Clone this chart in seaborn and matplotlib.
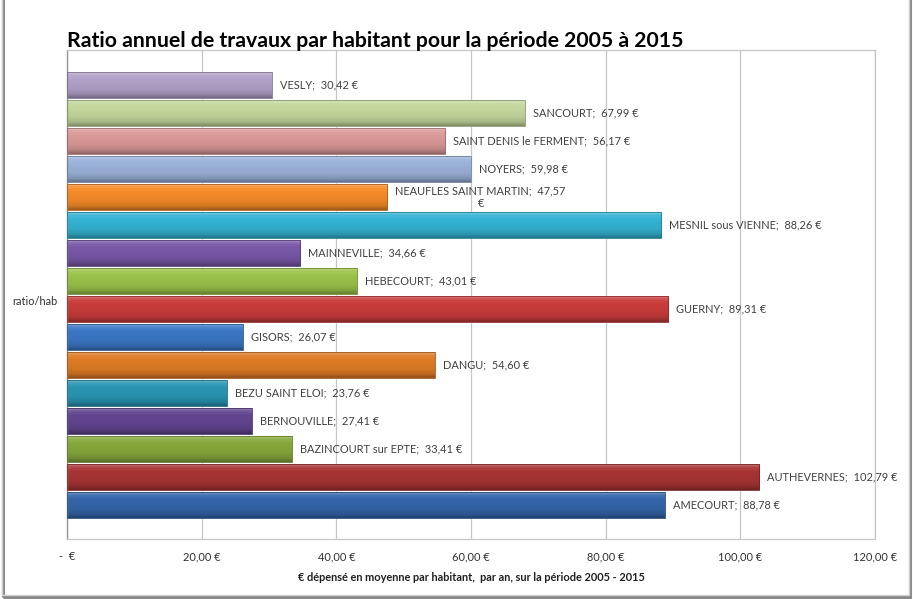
import numpy as np
import pandas as pd
import matplotlib
matplotlib.use("Agg")
import matplotlib.pyplot as plt
import matplotlib.colors as mcolors
from matplotlib.patches import Rectangle
import seaborn as sns

# Communes, from top of the chart to the bottom
communes = [
    "VESLY", "SANCOURT", "SAINT DENIS le FERMENT", "NOYERS",
    "NEAUFLES SAINT MARTIN", "MESNIL sous VIENNE", "MAINNEVILLE",
    "HEBECOURT", "GUERNY", "GISORS", "DANGU", "BEZU SAINT ELOI",
    "BERNOUVILLE", "BAZINCOURT sur EPTE", "AUTHEVERNES", "AMECOURT",
]
ratio = [
    30.42, 67.99, 56.17, 59.98,
    47.57, 88.26, 34.66,
    43.01, 89.31, 26.07, 54.60, 23.76,
    27.41, 33.41, 102.79, 88.78,
]
bar_colors = [
    "#b2a2c9", "#c4d79c", "#da9a98", "#9bb2d9",
    "#f68b28", "#33b3d3", "#7a58a8",
    "#9bc349", "#c93c3b", "#3b77c5", "#df7b24", "#2996b4",
    "#634590", "#85a83b", "#a93434", "#3465a9",
]
x_ticks = [0, 20, 40, 60, 80, 100, 120]
x_tick_labels = ["-  €", "20,00 €", "40,00 €", "60,00 €", "80,00 €", "100,00 €", "120,00 €"]

title = "Ratio annuel de travaux par habitant pour la période 2005 à 2015"
x_label = "€ dépensé en moyenne par habitant,  par an, sur la période 2005 - 2015"
category = "ratio/hab"


def fr_euro(v):
    return f"{v:.2f}".replace(".", ",") + " €"


df = pd.DataFrame({"commune": communes, "ratio": ratio})

sns.set_theme(style="white")
plt.rcParams["font.family"] = ["Lato", "DejaVu Sans"]

fig = plt.figure(figsize=(9.13, 5.99), dpi=100)
ax = fig.add_axes([0.0734, 0.1002, 0.8850, 0.8163])

sns.barplot(
    data=df, y="commune", x="ratio", hue="commune", order=communes,
    hue_order=communes, palette=bar_colors, orient="h", dodge=False,
    width=0.93, legend=False, ax=ax, saturation=1, zorder=2,
)

xlim = (0, 120)
ylim = (len(communes) - 0.5 + 0.70, -0.5 - 0.76)


def shade(rgb, f):
    rgb = np.asarray(rgb)
    if f >= 0:
        return rgb + (1 - rgb) * f
    return rgb * (1 + f)


# glossy bevel gradient on every bar
stops_t = [0.0, 0.06, 0.14, 0.30, 0.65, 0.85, 0.95, 1.0]
stops_f = [0.55, 0.30, 0.10, 0.0, -0.05, -0.15, -0.28, -0.35]
for patch, col in zip(ax.patches, bar_colors):
    x0, y0 = patch.get_x(), patch.get_y()
    w, h = patch.get_width(), patch.get_height()
    base = np.array(mcolors.to_rgb(col))
    t = np.linspace(0, 1, 60)
    f = np.interp(t, stops_t, stops_f)
    grad = np.array([np.clip(shade(base, fi), 0, 1) for fi in f])[:, None, :]
    im = ax.imshow(grad, extent=(x0, x0 + w, y0 + h, y0), origin="upper",
                   aspect="auto", interpolation="bilinear", zorder=2.5)
    im.set_clip_path(patch)
    ax.add_patch(Rectangle((x0, y0), w, h, fill=False,
                           edgecolor=shade(base, -0.3), linewidth=0.6, zorder=2.6))

# value labels just past the end of each bar
for name, v, yi in zip(communes, ratio, range(len(communes))):
    txt = f"{name};  {fr_euro(v)}"
    if name == "NEAUFLES SAINT MARTIN":
        txt = f"{name};  {fr_euro(v)[:-2]}\n€"
    ax.text(v + 1.2, yi, txt, ha="left", va="center", multialignment="center",
            fontsize=7.9, color="#404040", zorder=4, linespacing=1.25)

ax.set_xlim(*xlim)
ax.set_ylim(*ylim)
ax.set_xticks(x_ticks)
ax.set_xticklabels(x_tick_labels, fontsize=7.9, color="#303030")
ax.set_yticks([])
ax.set_ylabel("")
ax.set_xlabel(x_label, fontsize=7.9, fontweight="bold", color="#202020", labelpad=7)
ax.tick_params(axis="x", length=0, pad=9)
ax.grid(axis="x", color="#c6c6c6", linewidth=0.9, zorder=0)
ax.set_axisbelow(True)
for side in ["top", "right", "bottom"]:
    ax.spines[side].set_color("#c6c6c6")
    ax.spines[side].set_linewidth(0.9)
ax.spines["left"].set_color("#9a9a9a")
ax.spines["left"].set_linewidth(1.0)

ax.text(-0.012, 0.485, category, transform=ax.transAxes, ha="right", va="center",
        fontsize=7.9, color="#303030")

fig.text(0.0735, 0.9215, title, ha="left", va="baseline", fontsize=15.3,
         fontweight="bold", color="#000000")

# chart frame with a soft shadow
fig.patches.append(Rectangle((0.003, 0.003), 0.994, 1.1, transform=fig.transFigure,
                             fill=False, edgecolor="#8a8a8a", linewidth=2.2, zorder=0))
fig.patches.append(Rectangle((0.002, 0.006), 0.994, 1.1, transform=fig.transFigure,
                             fill=False, edgecolor="#d0d0d0", linewidth=1.0, zorder=1))

fig.savefig("out.png", dpi=100)
